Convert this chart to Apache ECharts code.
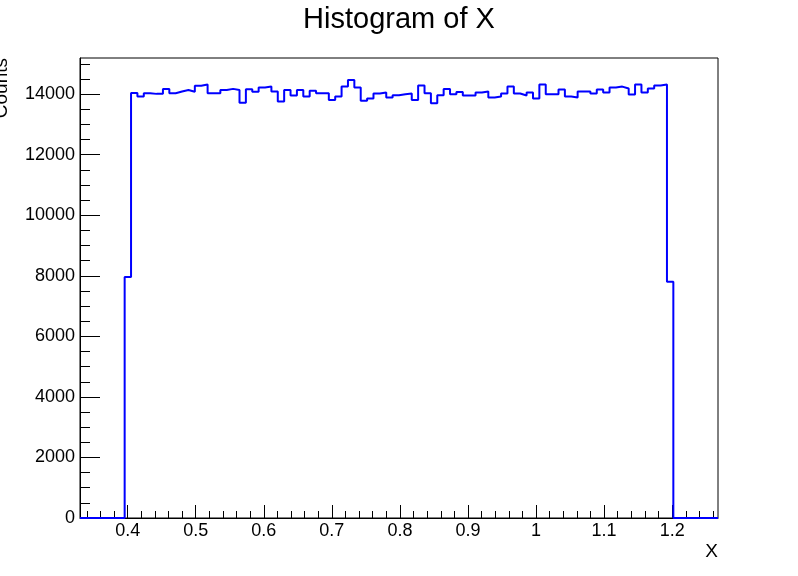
<!DOCTYPE html>
<html>
<head>
<meta charset="utf-8">
<script src="https://cdn.jsdelivr.net/npm/echarts@6/dist/echarts.min.js"></script>
<style>
  html, body { margin: 0; padding: 0; background: #fff; }
  #chart { width: 798px; height: 576px; }
</style>
</head>
<body>
<div id="chart"></div>
<script>
// histogram binning: 100 bins between xLow and xHigh
const xLow = 0.33
const xHigh = 1.2673
const nBins = 100

// bin contents
const counts = [
  0, 0, 0, 0, 0, 0, 0, 7960,
  14040, 13920, 14030, 14010, 14010, 14175, 14030, 14090, 14140, 14080,
  14275, 14320, 14030, 14030, 14140, 14175, 14140, 13720, 14160, 14080,
  14220, 14250, 14090, 13760, 14140, 13955, 14140, 13920, 14110, 14030,
  14030, 13810, 13920, 14250, 14470, 14220, 13780, 13855, 14020, 14055,
  13890, 13965, 14000, 14020, 13810, 14285, 14030, 13700, 13965, 14175,
  14000, 14075, 13955, 13955, 14055, 14090, 13890, 13920, 14020, 14250,
  14020, 13955, 14055, 13855, 14320, 14000, 14000, 14155, 13920, 13890,
  14090, 14090, 14020, 14155, 14055, 14220, 14250, 14185, 13990, 14320,
  14055, 14185, 14285, 14320,
  7800, 0, 0, 0, 0, 0, 0, 0
]

const xMajorTicks = [0.4, 0.5, 0.6, 0.7, 0.8, 0.9, 1, 1.1, 1.2]
const xMinorTicks = [0.34, 0.36, 0.38, 0.42, 0.44, 0.46, 0.48, 0.52, 0.54, 0.56, 0.58,
  0.62, 0.64, 0.66, 0.68, 0.72, 0.74, 0.76, 0.78, 0.82, 0.84, 0.86, 0.88,
  0.92, 0.94, 0.96, 0.98, 1.02, 1.04, 1.06, 1.08, 1.12, 1.14, 1.16, 1.18,
  1.22, 1.24, 1.26]
const yMajorTicks = [0, 2000, 4000, 6000, 8000, 10000, 12000, 14000]
const yMinorTicks = [500, 1000, 1500, 2500, 3000, 3500, 4500, 5000, 5500, 6500, 7000, 7500,
  8500, 9000, 9500, 10500, 11000, 11500, 12500, 13000, 13500, 14500, 15000]
const yMax = 15195

const font = 'Liberation Sans'

// step line: one point per bin low edge, plus the upper edge of the last bin
const binWidth = (xHigh - xLow) / nBins
let stepData = counts.map((c, i) => [xLow + i * binWidth, c])
stepData.push([xHigh, counts[nBins - 1]])

let chart = echarts.init(document.getElementById('chart'))
const option = {
  animation: false,
  title: {
    text: 'Histogram of X',
    left: 'center',
    top: 5,
    padding: 0,
    textStyle: { fontFamily: font, fontSize: 29, fontWeight: 'normal', color: '#000' }
  },
  grid: {
    left: 80,
    right: 80,
    top: 58,
    bottom: 58,
    show: true,
    borderColor: '#000',
    borderWidth: 1
  },
  xAxis: [
    {
      type: 'value',
      min: xLow,
      max: xHigh,
      name: 'X',
      nameLocation: 'end',
      nameGap: 0,
      nameTextStyle: {
        fontFamily: font, fontSize: 19, color: '#000',
        align: 'right', verticalAlign: 'top', padding: [24, 0, 0, 0]
      },
      axisLine: { show: true, lineStyle: { color: '#000', width: 1 } },
      axisTick: { show: true, inside: true, length: 13, customValues: xMajorTicks, lineStyle: { color: '#000' } },
      axisLabel: {
        customValues: xMajorTicks, margin: 4, fontFamily: font, fontSize: 18, color: '#000',
        formatter: (v) => String(v)
      },
      splitLine: { show: false }
    },
    {
      type: 'value',
      min: xLow,
      max: xHigh,
      position: 'bottom',
      axisLine: { show: false },
      axisTick: { show: true, inside: true, length: 7, customValues: xMinorTicks, lineStyle: { color: '#000' } },
      axisLabel: { show: false },
      splitLine: { show: false }
    }
  ],
  yAxis: [
    {
      type: 'value',
      min: 0,
      max: yMax,
      axisLine: { show: true, lineStyle: { color: '#000', width: 1 } },
      axisTick: { show: true, inside: true, length: 20, customValues: yMajorTicks, lineStyle: { color: '#000' } },
      axisLabel: {
        customValues: yMajorTicks, margin: 5, fontFamily: font, fontSize: 18, color: '#000',
        formatter: (v) => String(v)
      },
      splitLine: { show: false }
    },
    {
      type: 'value',
      min: 0,
      max: yMax,
      position: 'left',
      axisLine: { show: false },
      axisTick: { show: true, inside: true, length: 10, customValues: yMinorTicks, lineStyle: { color: '#000' } },
      axisLabel: { show: false },
      splitLine: { show: false }
    }
  ],
  graphic: [
    {
      type: 'text',
      x: 2,
      y: 58,
      rotation: Math.PI / 2,
      style: {
        text: 'Counts',
        font: '19px "Liberation Sans"',
        fill: '#000',
        align: 'right',
        verticalAlign: 'middle'
      }
    }
  ],
  series: [
    {
      name: 'X',
      type: 'line',
      step: 'end',
      xAxisIndex: 0,
      yAxisIndex: 0,
      symbol: 'none',
      data: stepData,
      lineStyle: { color: '#0000ff', width: 2 },
      z: 5
    }
  ]
}
chart.setOption(option, true)
</script>
</body>
</html>
